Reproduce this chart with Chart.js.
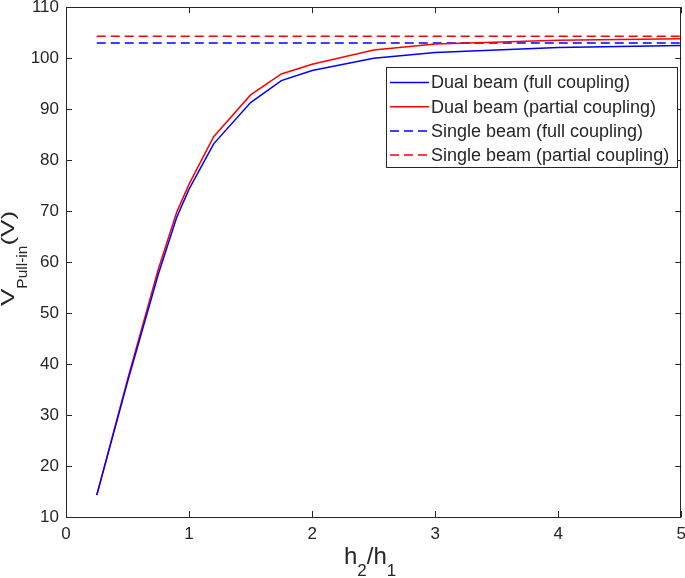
<!DOCTYPE html>
<html>
<head>
<meta charset="utf-8">
<script src="https://cdn.jsdelivr.net/npm/chart.js@4"></script>
<style>
  html, body { margin: 0; padding: 0; background: #fff; overflow: hidden; }
  #wrap { position: relative; width: 685px; height: 578px; overflow: hidden; }
  #pullinChart { position: absolute; left: 0; top: -10px; }
</style>
</head>
<body>
<div id="wrap"><canvas id="pullinChart" width="693" height="588"></canvas></div>
<script>
// h2/h1 ratios
const ratios = [0.25, 0.5, 0.75, 0.9, 1, 1.2, 1.5, 1.75, 2, 2.5, 3, 4, 5];
// pull-in voltage (V)
const dualFull    = [14.3, 36.5, 57.6, 68.8, 74.3, 83.2, 91.3, 95.6, 97.6, 100.0, 101.1, 102.1, 102.5];
const dualPartial = [14.3, 37.0, 58.6, 69.8, 75.3, 84.6, 92.8, 96.9, 98.8, 101.6, 102.8, 103.5, 103.8];
const singleFull    = 103.0;
const singlePartial = 104.3;
const xTicks = [0, 1, 2, 3, 4, 5];
const yTicks = [10, 20, 30, 40, 50, 60, 70, 80, 90, 100, 110];

const seriesNames = [
    'Dual beam (full coupling)',
    'Dual beam (partial coupling)',
    'Single beam (full coupling)',
    'Single beam (partial coupling)'
];

const FONT = '"Liberation Sans", Arial, sans-serif';
const INK = '#262626';
const SHIFT_Y = 10; // canvas sits 10px above the page top

function pts(ys) {
    return ratios.map((x, i) => ({ x: x, y: ys[i] }));
}
function flat(v) {
    return [{ x: ratios[0], y: v }, { x: ratios[ratios.length - 1], y: v }];
}

// box, inward ticks, axis titles and in-plot legend (MATLAB style)
const matlabLook = {
    id: 'matlabLook',
    afterDraw(chart) {
        const c = chart.ctx;
        const a = chart.chartArea;
        const xs = chart.scales.x, ys = chart.scales.y;
        c.save();
        c.strokeStyle = INK;
        c.lineWidth = 1;
        c.strokeRect(Math.round(a.left) + 0.5, Math.round(a.top) + 0.5,
                     Math.round(a.right - a.left) - 1, Math.round(a.bottom - a.top));
        c.beginPath();
        xTicks.forEach(t => {
            const px = Math.round(xs.getPixelForValue(t)) + 0.5;
            c.moveTo(px, a.bottom); c.lineTo(px, a.bottom - 6);
            c.moveTo(px, a.top); c.lineTo(px, a.top + 6);
        });
        yTicks.forEach(t => {
            const py = Math.round(ys.getPixelForValue(t)) + 0.5;
            c.moveTo(a.left, py); c.lineTo(a.left + 6, py);
            c.moveTo(a.right, py); c.lineTo(a.right - 6, py);
        });
        c.stroke();

        // page coordinates from here on
        c.translate(0, SHIFT_Y);

        // x title h2/h1
        c.fillStyle = INK;
        c.textBaseline = 'alphabetic';
        let x = 344;
        const y = 564;
        const parts = [['h', 24, 0], ['2', 17, 12], ['/h', 24, 0], ['1', 17, 12]];
        parts.forEach(p => {
            c.font = p[1] + 'px ' + FONT;
            c.fillText(p[0], x, y + p[2]);
            x += c.measureText(p[0]).width;
        });

        // y title V_Pull-in (V)
        c.save();
        c.translate(14, 306);
        c.rotate(-Math.PI / 2);
        x = 0;
        const yparts = [['V', 26, 0, 0.7], ['Pull-in', 15.5, 13, 1], ['(V)', 26, 0, 0.7]];
        yparts.forEach(p => {
            c.font = p[1] + 'px ' + FONT;
            c.save();
            c.translate(x, p[2]);
            c.scale(1, p[3]);
            c.fillText(p[0], 0, 0);
            c.restore();
            x += c.measureText(p[0]).width;
        });
        c.restore();

        // legend
        const lx = 386, ly = 67, lw = 291, lh = 100;
        c.fillStyle = '#fff';
        c.fillRect(lx, ly, lw, lh);
        c.strokeStyle = INK;
        c.lineWidth = 1;
        c.strokeRect(lx + 0.5, ly + 0.5, lw, lh);
        c.font = '18px ' + FONT;
        c.textBaseline = 'middle';
        chart.data.datasets.forEach((ds, i) => {
            const ry = ly + 15.5 + i * 24.2;
            c.strokeStyle = ds.borderColor;
            c.lineWidth = 1.5;
            c.setLineDash(ds.borderDash || []);
            c.beginPath();
            c.moveTo(lx + 4, ry); c.lineTo(lx + 43, ry);
            c.stroke();
            c.setLineDash([]);
            c.fillStyle = INK;
            c.fillText(ds.label, lx + 45, ry + 1);
        });
        c.restore();
    }
};

const ctx = document.getElementById('pullinChart').getContext('2d');
const pullinChart = new Chart(ctx, {
    type: 'scatter',
    data: {
        datasets: [
            { label: seriesNames[0], data: pts(dualFull), borderColor: '#0000ff' },
            { label: seriesNames[1], data: pts(dualPartial), borderColor: '#ff0000' },
            { label: seriesNames[2], data: flat(singleFull), borderColor: '#0000ff', borderDash: [9, 5] },
            { label: seriesNames[3], data: flat(singlePartial), borderColor: '#ff0000', borderDash: [9, 5] }
        ].map(ds => Object.assign(ds, {
            showLine: true,
            borderWidth: 1.5,
            pointRadius: 0,
            tension: 0,
            fill: false
        }))
    },
    options: {
        responsive: false,
        animation: false,
        layout: { padding: 0 },
        plugins: {
            legend: { display: false },
            tooltip: { enabled: false }
        },
        scales: {
            x: {
                type: 'linear',
                min: 0, max: 5,
                afterBuildTicks: s => { s.ticks = xTicks.map(v => ({ value: v })); },
                afterFit: s => { s.height = 61; },
                grid: { display: false, drawTicks: false },
                border: { display: false },
                ticks: { color: INK, font: { size: 17, family: FONT }, padding: 7 }
            },
            y: {
                type: 'linear',
                min: 10, max: 110,
                afterBuildTicks: s => { s.ticks = yTicks.map(v => ({ value: v })); },
                afterFit: s => { s.width = 66; },
                grid: { display: false, drawTicks: false },
                border: { display: false },
                ticks: { color: INK, font: { size: 17, family: FONT }, padding: 7 }
            }
        }
    },
    plugins: [matlabLook]
});
</script>
</body>
</html>
